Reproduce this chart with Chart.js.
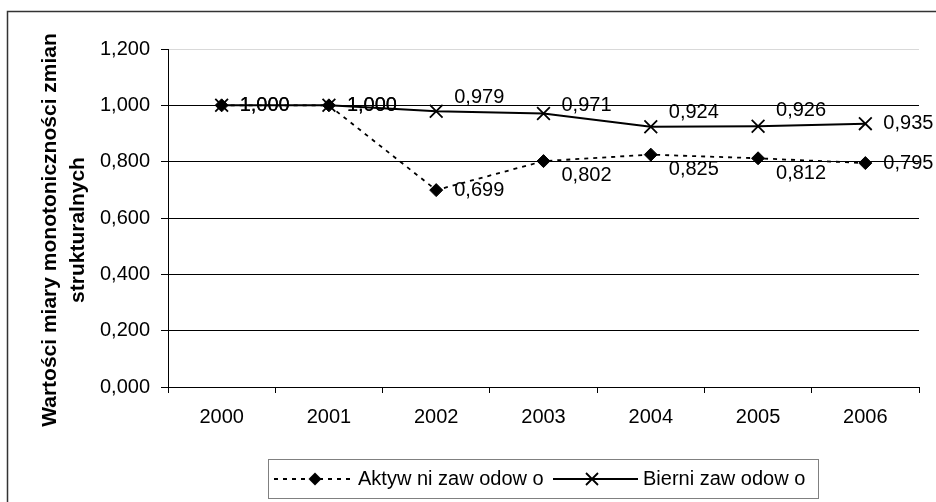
<!DOCTYPE html>
<html>
<head>
<meta charset="utf-8">
<script src="https://cdn.jsdelivr.net/npm/chart.js@4.4.1/dist/chart.umd.min.js"></script>
<style>
html, body { margin: 0; padding: 0; background: #fff; }
#wrap { width: 936px; height: 502px; position: relative; }
</style>
</head>
<body>
<div id="wrap"><canvas id="myChart"></canvas></div>
<script>
var years = ["2000", "2001", "2002", "2003", "2004", "2005", "2006"]
var aktywni = [1.000, 1.000, 0.699, 0.802, 0.825, 0.812, 0.795]
var bierni = [1.000, 1.000, 0.979, 0.971, 0.924, 0.926, 0.935]
var yTicks = [0, 0.2, 0.4, 0.6, 0.8, 1.0, 1.2]
var seriesNames = ["Aktyw ni zaw odow o", "Bierni zaw odow o"]
var axisTitle = ["Wartości miary monotoniczności zmian", "strukturalnych"]

// how far each value label sits above (-) or below (+) its point
var labelDy = [[0, 0, 0, 14, 15, 15, 0], [0, 0, -14, -8, -14, -16, 0]]

var FONT = '"Liberation Sans", Arial, sans-serif'

function fmt(v) {
    return v.toFixed(3).replace('.', ',')
}

var decor = {
    id: 'decor',
    beforeDraw(chart) {
        var ctx = chart.ctx
        ctx.save()
        ctx.fillStyle = '#fff'
        ctx.fillRect(0, 0, chart.width, chart.height)
        ctx.restore()
    },
    afterDatasetsDraw(chart) {
        var ctx = chart.ctx
        ctx.save()
        ctx.font = '20px ' + FONT
        ctx.fillStyle = '#000'
        ctx.textAlign = 'left'
        ctx.textBaseline = 'middle'
        chart.data.datasets.forEach(function (ds, di) {
            chart.getDatasetMeta(di).data.forEach(function (pt, i) {
                ctx.fillText(fmt(ds.data[i]), pt.x + 18, pt.y + labelDy[di][i])
            })
        })
        ctx.restore()
    },
    afterDraw(chart) {
        var ctx = chart.ctx
        ctx.save()
        // outer frame
        ctx.strokeStyle = '#333'
        ctx.lineWidth = 1.5
        ctx.strokeRect(7.5, 11.5, 1200, 1200)

        // axis title
        ctx.fillStyle = '#000'
        ctx.font = 'bold 21px ' + FONT
        ctx.textAlign = 'center'
        ctx.textBaseline = 'middle'
        ctx.translate(50, 230)
        ctx.rotate(-Math.PI / 2)
        ctx.fillText(axisTitle[0], 0, 0)
        ctx.fillText(axisTitle[1], 0, 28)
        ctx.restore()

        // legend
        ctx.save()
        ctx.strokeStyle = '#808080'
        ctx.lineWidth = 1
        ctx.strokeRect(268.5, 459.5, 550, 39)
        var y = 479
        ctx.strokeStyle = '#000'
        ctx.lineWidth = 1.8
        ctx.setLineDash([4, 5])
        ctx.beginPath(); ctx.moveTo(274, y); ctx.lineTo(350, y); ctx.stroke()
        ctx.setLineDash([])
        ctx.fillStyle = '#000'
        ctx.beginPath()
        ctx.moveTo(315, y - 6.5); ctx.lineTo(321.5, y); ctx.lineTo(315, y + 6.5); ctx.lineTo(308.5, y)
        ctx.closePath(); ctx.fill()

        ctx.lineWidth = 1.8
        ctx.beginPath(); ctx.moveTo(553, y); ctx.lineTo(638, y); ctx.stroke()
        ctx.beginPath()
        ctx.moveTo(586, y - 6); ctx.lineTo(598, y + 6)
        ctx.moveTo(598, y - 6); ctx.lineTo(586, y + 6)
        ctx.stroke()

        ctx.font = '20px ' + FONT
        ctx.textAlign = 'left'
        ctx.textBaseline = 'middle'
        ctx.fillText(seriesNames[0], 358, y)
        ctx.fillText(seriesNames[1], 643, y)
        ctx.restore()
    }
}

var chartField = document.querySelector('#myChart').getContext('2d')

var myChart = new Chart(chartField, {
    type: 'line',
    data: {
        labels: years,
        datasets: [{
            label: seriesNames[0],
            data: aktywni,
            borderColor: '#000',
            backgroundColor: '#000',
            borderWidth: 1.8,
            borderDash: [4, 5],
            pointStyle: 'rectRot',
            pointRadius: 6.5,
            pointBorderWidth: 1,
            pointBackgroundColor: '#000',
            pointBorderColor: '#000',
            tension: 0
        }, {
            label: seriesNames[1],
            data: bierni,
            borderColor: '#000',
            backgroundColor: '#000',
            borderWidth: 2,
            pointStyle: 'crossRot',
            pointRadius: 9,
            pointBorderWidth: 1.8,
            pointBorderColor: '#000',
            tension: 0
        }]
    },
    options: {
        responsive: true,
        maintainAspectRatio: false,
        animation: false,
        events: [],
        layout: { padding: { left: 0, top: 49, right: 17, bottom: 0 } },
        plugins: {
            legend: { display: false },
            tooltip: { enabled: false }
        },
        scales: {
            x: {
                offset: true,
                grid: { offset: true, drawOnChartArea: false, drawTicks: true, tickLength: 6, color: '#000' },
                border: { display: true, color: '#000', width: 1 },
                ticks: { color: '#000', font: { family: FONT, size: 20 }, padding: 12, maxRotation: 0, autoSkip: false },
                afterFit: function (s) { s.height = 115 }
            },
            y: {
                min: 0,
                max: 1.2,
                afterBuildTicks: function (s) { s.ticks = yTicks.map(function (v) { return { value: v } }) },
                grid: {
                    color: function (c) { return c.tick && c.tick.value > 1.1 ? '#d9d9d9' : '#000' },
                    tickColor: '#000',
                    tickLength: 7,
                    lineWidth: 1
                },
                border: { display: true, color: '#000', width: 1 },
                ticks: {
                    color: '#000',
                    font: { family: FONT, size: 20 },
                    padding: 11,
                    callback: function (v) { return fmt(v) }
                },
                afterFit: function (s) { s.width = 168 }
            }
        }
    },
    plugins: [decor]
})
</script>
</body>
</html>
